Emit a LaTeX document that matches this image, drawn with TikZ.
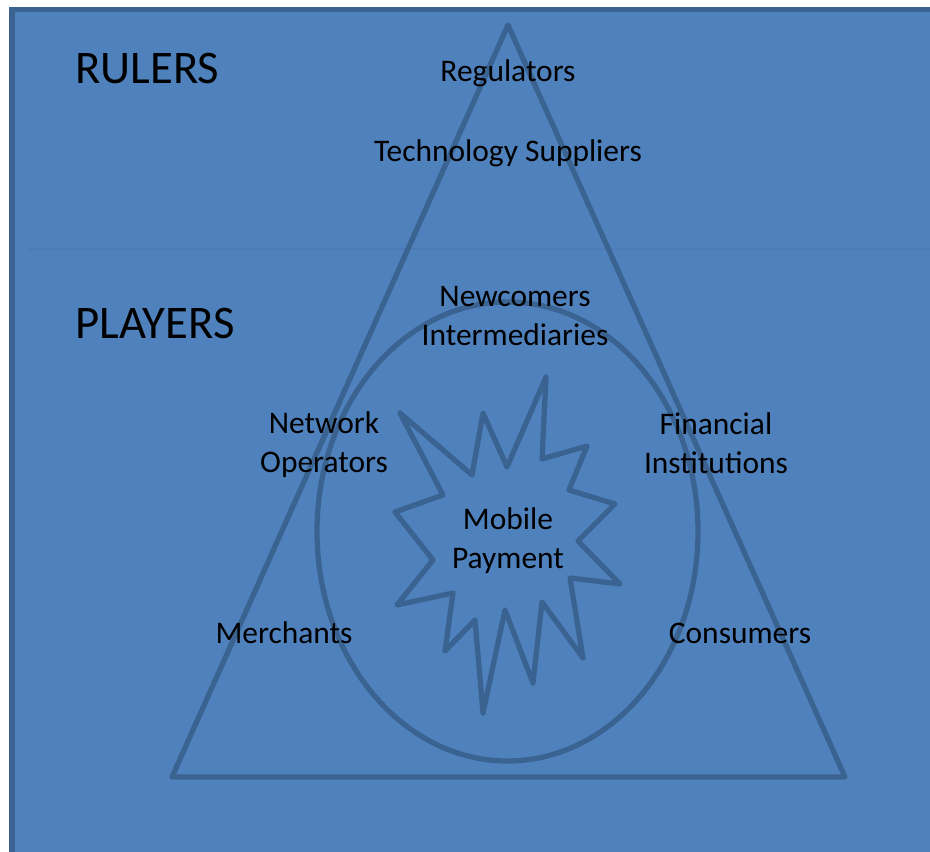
\documentclass[tikz,border=0pt]{standalone}
\usepackage{fontspec}
\setmainfont{Carlito}
\definecolor{panelblue}{HTML}{4F81BD}
\definecolor{edgeblue}{HTML}{3A6391}
\definecolor{splitblue}{HTML}{4B7CB8}

\begin{document}
\begin{tikzpicture}[x=0.02cm, y=-0.02cm,
    outline/.style={draw=edgeblue, line width=0.105cm, line join=round},
    actor/.style={align=center, text=black, font=\fontsize{17.9}{22.2}\selectfont, inner sep=0pt},
    heading/.style={anchor=west, text=black, font=\fontsize{26.6}{32}\selectfont, inner sep=0pt}]

  \useasboundingbox (0,0) rectangle (930,852);
  \clip (0,0) rectangle (930,852);

  % Background panel
  \fill[panelblue] (12,9.5) rectangle (940,862);
  \draw[splitblue, line width=0.04cm] (28,249) -- (930,249);
  \draw[edgeblue, line width=0.11cm] (12,862) -- (12,9.5) -- (940,9.5);

  % Shapes
  \draw[outline] (508,25) -- (845,777) -- (172,777) -- cycle;
  \draw[outline] (507.5,531.5) ellipse [x radius=190.5, y radius=229.5];
  \draw[outline] (546,377) -- (542,459) -- (587,446) -- (569,490) -- (615,504)
    -- (578,541) -- (620,584) -- (570,578) -- (583,658) -- (542,602)
    -- (533,683) -- (505,610) -- (483,713) -- (475,620) -- (445,651)
    -- (453,593) -- (397,605) -- (433,560) -- (395,512) -- (443,495)
    -- (400,413) -- (472,475) -- (483,413) -- (507,467) -- cycle;

  % Define nodes
  \node[heading] (rulers)  at (75,69)  {RULERS};
  \node[heading] (players) at (75,323) {PLAYERS};

  \node[actor] (reg)   at (508,73)    {Regulators};
  \node[actor] (tech)  at (508,153)   {Technology Suppliers};
  \node[actor] (newc)  at (515,316.5) {Newcomers\\Intermediaries};
  \node[actor] (netop) at (324,444.5) {Network\\Operators};
  \node[actor] (fin)   at (716,443.5) {Financial\\Institutions};
  \node[actor] (mpay)  at (508,540.5) {Mobile\\Payment};
  \node[actor] (merch) at (284,633)   {Merchants};
  \node[actor] (cons)  at (740,633)   {Consumers};

\end{tikzpicture}
\end{document}
